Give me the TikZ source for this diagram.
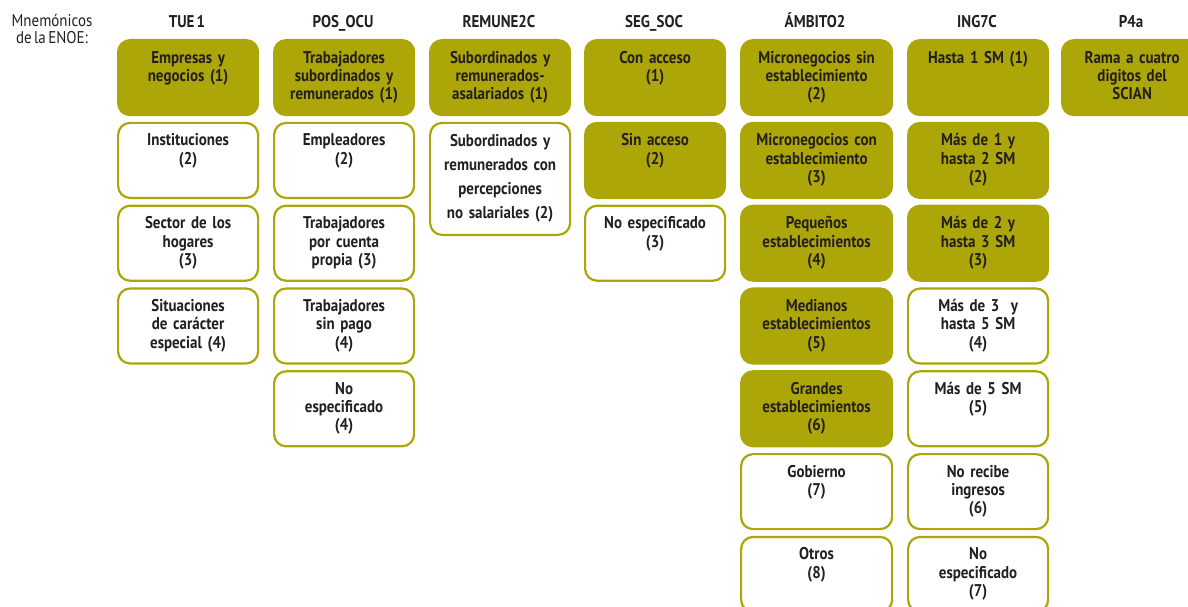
\documentclass[tikz,border=0pt]{standalone}
\usepackage{fontspec}
\setmainfont{PT Sans}[FakeStretch=0.88, WordSpace=0.6, BoldFont={PT Sans Bold}]
\usetikzlibrary{positioning}
\definecolor{enoeolive}{RGB}{172,166,8}
\definecolor{enoeink}{RGB}{35,31,32}

\begin{document}
\begin{tikzpicture}[x=1pt, y=-1pt,
    box/.style={draw=enoeolive, line width=2.2pt, rounded corners=12pt, fill=white, anchor=north west,
      minimum width=140pt, text width=136pt, inner xsep=2pt, inner ysep=0pt, text height=23pt, text depth=52pt,
      align=center, text=enoeink, font=\bfseries\fontsize{17}{18.3}\selectfont},
    boxon/.style={box, fill=enoeolive},
    wide/.style={minimum width=151pt, text width=147pt},
    tall/.style={text height=24pt, text depth=88pt, font=\bfseries\fontsize{17}{24}\selectfont},
    head/.style={anchor=base, text=enoeink, font=\bfseries\fontsize{17}{18.3}\selectfont}]

  \useasboundingbox (0,0) rectangle (1188,607);
  \clip (0,0) rectangle (1188,607);

  % column headings
  \node[align=center, anchor=north, inner sep=0pt, text=enoeink, font=\fontsize{17}{17}\selectfont] (mnem) at (52,14) {Mnemónicos\\de la ENOE:};
  \node[head] (hTUE) at (187,28) {TUE 1};
  \node[head] (hPOS) at (343,28) {POS\_OCU};
  \node[head] (hREM) at (499,28) {REMUNE2C};
  \node[head] (hSEG) at (654,28) {SEG\_SOC};
  \node[head] (hAMB) at (815,28) {ÁMBITO2};
  \node[head] (hING) at (977,28) {ING7C};
  \node[head] (hP4a) at (1131,28) {P4a};

  % TUE 1
  \node[boxon] (tue1) at (117,39) {Empresas y\\negocios (1)};
  \node[box, below=5.6pt of tue1] (tue2) {Instituciones\\(2)};
  \node[box, below=5.6pt of tue2] (tue3) {Sector de los\\hogares\\(3)};
  \node[box, below=5.6pt of tue3] (tue4) {Situaciones\\de carácter\\especial (4)};

  % POS_OCU
  \node[boxon] (pos1) at (273,39) {Trabajadores\\subordinados y\\remunerados (1)};
  \node[box, below=5.6pt of pos1] (pos2) {Empleadores\\(2)};
  \node[box, below=5.6pt of pos2] (pos3) {Trabajadores\\por cuenta\\propia (3)};
  \node[box, below=5.6pt of pos3] (pos4) {Trabajadores\\sin pago\\(4)};
  \node[box, below=5.6pt of pos4] (pos5) {No\\especificado\\(4)};

  % REMUNE2C
  \node[boxon] (rem1) at (429,39) {Subordinados y\\remunerados-\\asalariados (1)};
  \node[box, tall, below=5.6pt of rem1] (rem2) {Subordinados y\\remunerados con\\percepciones\\no salariales (2)};

  % SEG_SOC
  \node[boxon] (seg1) at (584,39) {Con acceso\\(1)};
  \node[boxon, below=5.6pt of seg1] (seg2) {Sin acceso\\(2)};
  \node[box, below=5.6pt of seg2] (seg3) {No especificado\\(3)};

  % ÁMBITO2
  \node[boxon, wide] (amb1) at (740,39) {Micronegocios sin\\establecimiento\\(2)};
  \node[boxon, wide, below=5.6pt of amb1] (amb2) {Micronegocios con\\establecimiento\\(3)};
  \node[boxon, wide, below=5.6pt of amb2] (amb3) {Pequeños\\establecimientos\\(4)};
  \node[boxon, wide, below=5.6pt of amb3] (amb4) {Medianos\\establecimientos\\(5)};
  \node[boxon, wide, below=5.6pt of amb4] (amb5) {Grandes\\establecimientos\\(6)};
  \node[box, wide, below=5.6pt of amb5] (amb6) {Gobierno\\(7)};
  \node[box, wide, below=5.6pt of amb6] (amb7) {Otros\\(8)};

  % ING7C
  \node[boxon] (ing1) at (907,39) {Hasta 1 SM (1)};
  \node[boxon, below=5.6pt of ing1] (ing2) {Más de 1 y\\hasta 2 SM\\(2)};
  \node[boxon, below=5.6pt of ing2] (ing3) {Más de 2 y\\hasta 3 SM\\(3)};
  \node[box, below=5.6pt of ing3] (ing4) {Más de 3~ y\\hasta 5 SM\\(4)};
  \node[box, below=5.6pt of ing4] (ing5) {Más de 5 SM\\(5)};
  \node[box, below=5.6pt of ing5] (ing6) {No recibe\\ingresos\\(6)};
  \node[box, below=5.6pt of ing6] (ing7) {No\\especificado\\(7)};

  % P4a
  \node[boxon] (p4a) at (1061,39) {Rama a cuatro\\digitos del\\SCIAN};
\end{tikzpicture}
\end{document}
